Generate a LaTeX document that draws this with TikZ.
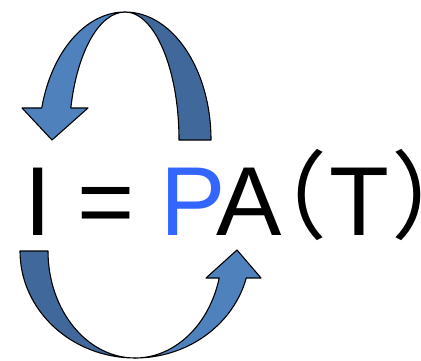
\documentclass[tikz,border=0pt]{standalone}
\usepackage{fontspec}
\setmainfont{Liberation Sans}
\newfontfamily\cjkfont{Noto Sans CJK SC}
\definecolor{lightband}{HTML}{4F81BD}
\definecolor{darkband}{HTML}{41689B}
\definecolor{pblue}{HTML}{3366FF}
\begin{document}
\begin{tikzpicture}[x=1pt,y=1pt,
  band/.style={draw=black,line width=1.1pt,line join=round},
  glyph/.style={inner sep=0pt,outer sep=0pt,anchor=base,font=\fontsize{98}{98}\selectfont},
  paren/.style={inner sep=0pt,outer sep=0pt,font=\cjkfont\fontsize{96}{96}\selectfont}]
\useasboundingbox (0,0) rectangle (421,360);
% top arrow: dark back band
\draw[band,fill=darkband] (211,220) arc[start angle=0,end angle=90,x radius=86,y radius=128]
  arc[start angle=90,end angle=0,x radius=54,y radius=128] -- cycle;
% top arrow: light front band with head
\draw[band,fill=lightband] (125,348) arc[start angle=90,end angle=165.5,x radius=86,y radius=128]
  -- (22,252) -- (52,220) -- (88,252) -- (70.8,252)
  arc[start angle=165.5,end angle=90,x radius=56,y radius=128] -- cycle;
% bottom arrow: dark back band
\draw[band,fill=darkband] (20,109) arc[start angle=180,end angle=270,x radius=115,y radius=107]
  arc[start angle=270,end angle=180,x radius=87,y radius=107] -- cycle;
% bottom arrow: light front band with head
\draw[band,fill=lightband] (135,2) arc[start angle=270,end angle=345.4,x radius=115,y radius=107]
  -- (261,82) -- (237,110) -- (206,82) -- (219.2,82)
  arc[start angle=345.4,end angle=270,x radius=87,y radius=107] -- cycle;
% formula
\node[glyph] (I) at (38.5,125) {I};
\node[glyph] (eq) at (106.5,125) {=};
\node[glyph,text=pblue] (P) at (193,125) {P};
\node[glyph] (A) at (249,125) {A};
\node[paren,anchor=base east] (lp) at (327,129) {\kern-0.6em（};
\node[glyph] (T) at (359,125) {T};
\node[paren,anchor=base west] (rp) at (391,129) {）\kern-0.7em};
\end{tikzpicture}
\end{document}
